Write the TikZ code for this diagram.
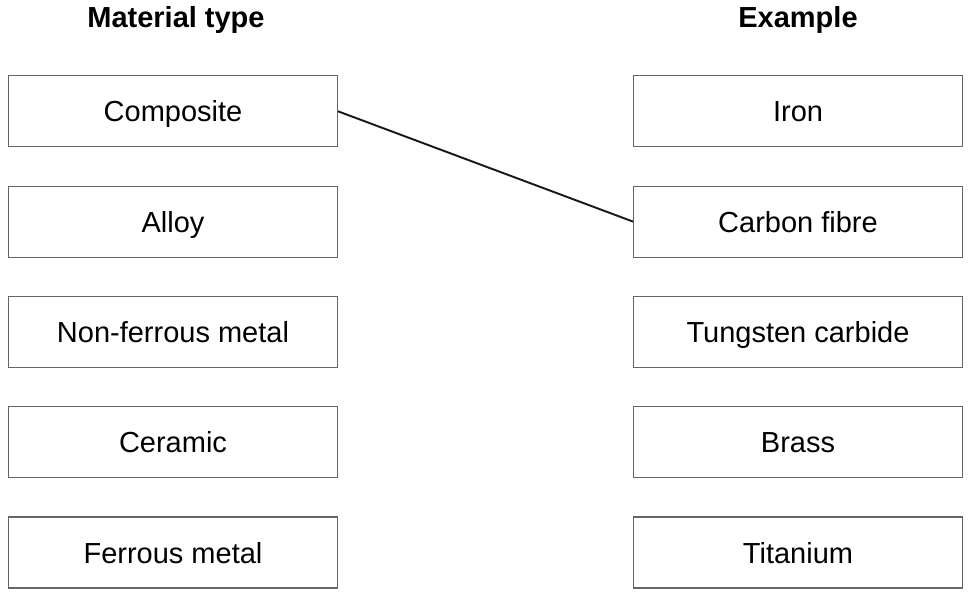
\documentclass[tikz,border=0pt]{standalone}
\usepackage{fontspec}
\setmainfont{Liberation Sans}

\begin{document}
\begin{tikzpicture}[x=0.02cm, y=-0.02cm,
   box/.style={draw=black!60, line width=0.6pt, minimum width=6.58cm, minimum height=1.42cm,
      inner sep=0pt, text height=0.42cm, text depth=0pt, font=\fontsize{16.5}{20}\selectfont},
   head/.style={anchor=base, font=\fontsize{16.5}{20}\selectfont\bfseries},
   link/.style={line width=1.1pt, black!90}]

   \useasboundingbox (0,0) rectangle (969,591);
% Заголовки колонок
   \node[head] (mat) at (176,28) {Material type};
   \node[head] (ex) at (798,28) {Example};

% Левая колонка
   \node[box] (comp) at (173,111.3) {Composite};
   \node[box] (alloy) at (173,221.6) {Alloy};
   \node[box] (nonfer) at (173,331.9) {Non-ferrous metal};
   \node[box] (ceram) at (173,442.2) {Ceramic};
   \node[box] (fer) at (173,552.5) {Ferrous metal};

% Правая колонка
   \node[box] (iron) at (798,111.3) {Iron};
   \node[box] (carbon) at (798,221.6) {Carbon fibre};
   \node[box] (tung) at (798,331.9) {Tungsten carbide};
   \node[box] (brass) at (798,442.2) {Brass};
   \node[box] (titan) at (798,552.5) {Titanium};

   \draw[link] (comp.east) -- (carbon.west);

\end{tikzpicture}
\end{document}
